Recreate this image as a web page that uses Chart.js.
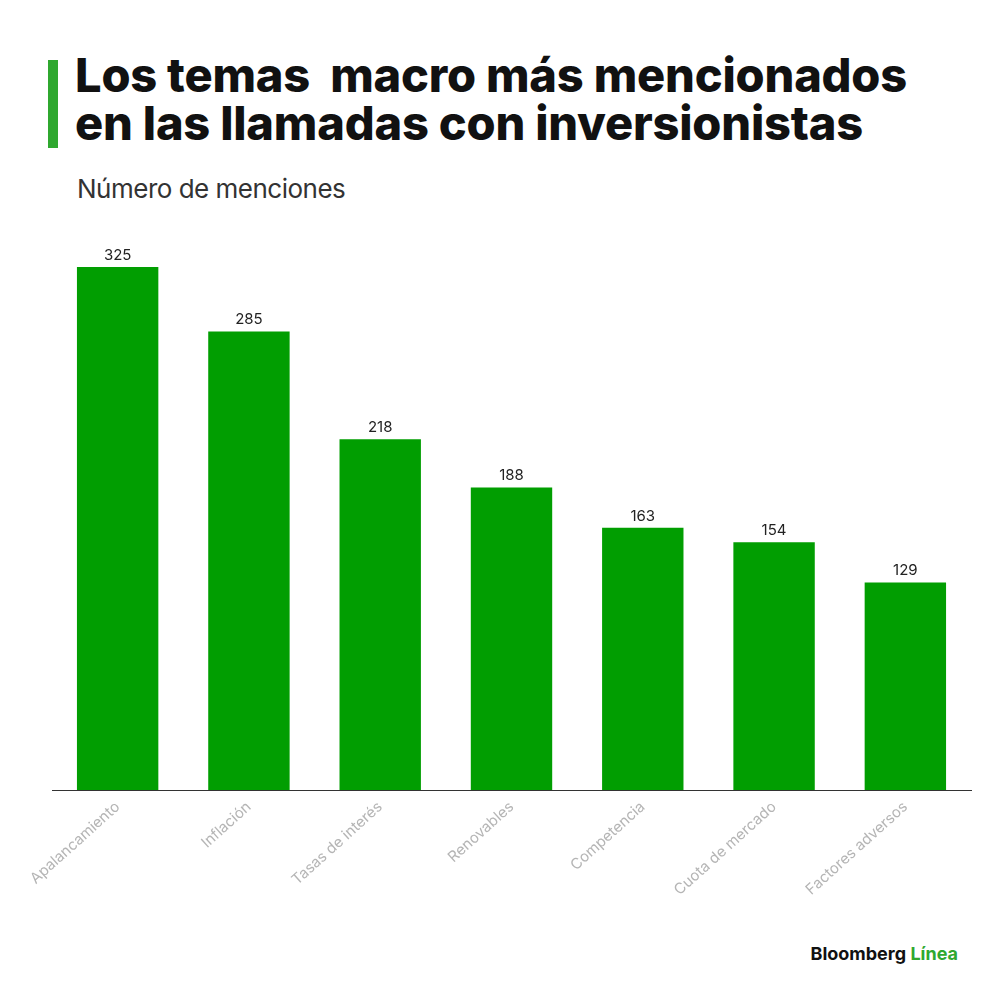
<!DOCTYPE html>
<html>
<head>
<meta charset="utf-8">
<script src="https://cdn.jsdelivr.net/npm/chart.js@4"></script>
<style>
  body { margin: 0; width: 1000px; height: 1000px; background: #fff; position: relative; font-family: "Inter", "Noto Sans", sans-serif; overflow: hidden; }
  #bar { position: absolute; left: 48px; top: 60px; width: 10px; height: 88px; background: #2fa82f; }
  #title { position: absolute; left: 75px; top: 51px; font-size: 47px; font-weight: 800; line-height: 48px; color: #111; letter-spacing: -0.2px; }
  #sub { position: absolute; left: 77px; top: 173px; font-size: 26px; color: #333; letter-spacing: -0.5px; }
  #wrap { position: absolute; left: 0; top: 220px; width: 1000px; height: 720px; }
  #logo { position: absolute; right: 42px; top: 943px; font-size: 18px; font-weight: 700; color: #111; }
  #logo span { color: #2fa82f; }
</style>
</head>
<body>
<div id="bar"></div>
<div id="title">Los temas&nbsp; macro más mencionados<br>en las llamadas con inversionistas</div>
<div id="sub">Número de menciones</div>
<div id="wrap"><canvas id="c"></canvas></div>
<div id="logo">Bloomberg <span>Línea</span></div>
<script>
// Data
const categories = ["Apalancamiento", "Inflación", "Tasas de interés", "Renovables", "Competencia", "Cuota de mercado", "Factores adversos"];
const mentions = [325, 285, 218, 188, 163, 154, 129];

// Value labels above each bar
const valueLabels = {
  id: "valueLabels",
  afterDatasetsDraw(chart) {
    const ctx = chart.ctx;
    const meta = chart.getDatasetMeta(0);
    ctx.save();
    ctx.font = "15px Inter, 'Noto Sans', sans-serif";
    ctx.fillStyle = "#222";
    ctx.textAlign = "center";
    ctx.textBaseline = "bottom";
    meta.data.forEach((bar, i) => {
      ctx.fillText(mentions[i], bar.x, bar.y - 4);
    });
    ctx.restore();
  }
};

new Chart(document.getElementById("c"), {
  type: "bar",
  data: {
    labels: categories,
    datasets: [{
      data: mentions,
      backgroundColor: "#019e01",
      categoryPercentage: 1,
      barPercentage: 0.62
    }]
  },
  options: {
    responsive: true,
    maintainAspectRatio: false,
    animation: false,
    layout: { padding: { left: 52, right: 29, top: 10, bottom: 0 } },
    plugins: { legend: { display: false }, tooltip: { enabled: false } },
    scales: {
      y: { display: false, min: 0, max: 348 },
      x: {
        grid: { display: false, drawTicks: false },
        border: { color: "#333", width: 1 },
        afterFit(scale) { scale.height = 150; },
        ticks: {
          color: "#b5b5b5",
          font: { size: 15, family: "Inter, 'Noto Sans', sans-serif" },
          minRotation: 42,
          maxRotation: 42,
          padding: 8
        }
      }
    }
  },
  plugins: [valueLabels]
});
</script>
</body>
</html>
